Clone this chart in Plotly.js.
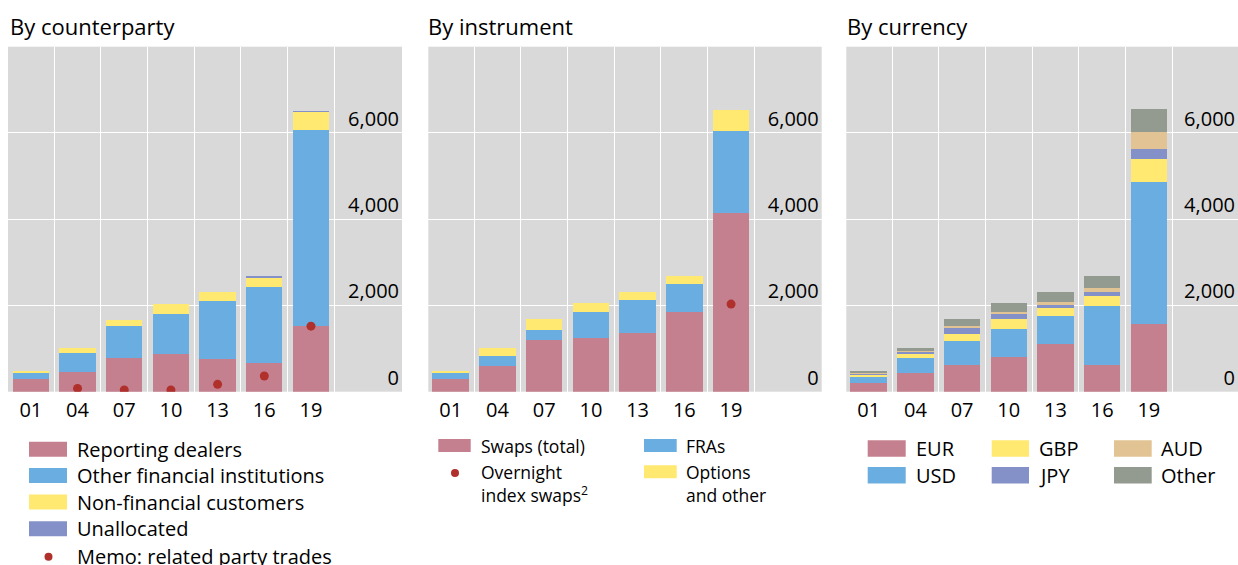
<!DOCTYPE html>
<html>
<head>
<meta charset="utf-8">
<script src="https://cdn.plot.ly/plotly-3.0.1.min.js"></script>
<style>
html,body{margin:0;padding:0;background:#fff;}
#chart{width:1238px;height:565px;}
</style>
</head>
<body>
<div id="chart"></div>
<script>
// ---- Data (daily average turnover, USD bn) ----
const years = ['01', '04', '07', '10', '13', '16', '19'];

// By counterparty
const cpDealers  = [285, 463, 772, 864, 748, 656, 1528];
const cpOtherFin = [147, 440, 748, 934, 1351, 1775, 4537];
const cpNonFin   = [48, 108, 154, 247, 208, 208, 416];
const cpUnalloc  = [0, 0, 0, 0, 0, 38, 31];
const cpRelated  = [null, 77, 40, 40, 170, 363, 1520];

// By instrument
const inSwaps   = [301, 595, 1189, 1243, 1367, 1838, 4139];
const inFRAs    = [131, 239, 247, 603, 749, 656, 1907];
const inOptions = [47, 185, 255, 216, 201, 186, 479];
const inOIS     = [null, null, null, null, null, null, 2031];

// By currency
const cuEUR   = [208, 432, 620, 806, 1109, 620, 1574];
const cuUSD   = [139, 347, 551, 659, 643, 1364, 3286];
const cuGBP   = [40, 93, 170, 225, 186, 241, 543];
const cuJPY   = [25, 46, 140, 116, 70, 77, 217];
const cuAUD   = [12, 16, 31, 47, 77, 109, 403];
const cuOther = [66, 85, 178, 209, 233, 279, 527];

const yTicks = [0, 2000, 4000, 6000];

// ---- Styles ----
const C = {
  red: '#C4808F', blue: '#6AADE0', yellow: '#FFE970', purple: '#8490C8',
  tan: '#E2C393', gray: '#939A90', dot: '#B0302C', bg: '#D9D9D9'
};
const FONT = 'Open Sans, Noto Sans, sans-serif';
const W = 1238, H = 565;
const px = x => x / W;
const py = y => 1 - y / H;

function bar(name, y, color, ax) {
  return { type: 'bar', name: name, x: years, y: y, xaxis: 'x' + ax, yaxis: 'y' + ax,
    marker: { color: color, line: { width: 0 } }, showlegend: false, hoverinfo: 'x+y+name' };
}
function dots(name, y, ax) {
  return { type: 'scatter', mode: 'markers', name: name, x: years, y: y, xaxis: 'x' + ax, yaxis: 'y' + ax,
    marker: { color: C.dot, size: 9 }, showlegend: false, cliponaxis: true };
}

const data = [
  bar('Reporting dealers', cpDealers, C.red, ''),
  bar('Other financial institutions', cpOtherFin, C.blue, ''),
  bar('Non-financial customers', cpNonFin, C.yellow, ''),
  bar('Unallocated', cpUnalloc, C.purple, ''),
  dots('Memo: related party trades', cpRelated, ''),

  bar('Swaps (total)', inSwaps, C.red, '2'),
  bar('FRAs', inFRAs, C.blue, '2'),
  bar('Options and other', inOptions, C.yellow, '2'),
  dots('Overnight index swaps', inOIS, '2'),

  bar('EUR', cuEUR, C.red, '3'),
  bar('USD', cuUSD, C.blue, '3'),
  bar('GBP', cuGBP, C.yellow, '3'),
  bar('JPY', cuJPY, C.purple, '3'),
  bar('AUD', cuAUD, C.tan, '3'),
  bar('Other', cuOther, C.gray, '3')
];

const yDom = [py(391.7), py(46.7)];
function xAxis(dom, range) {
  return { domain: dom, type: 'category', range: range, tickson: 'boundaries',
    showgrid: true, gridcolor: '#FFFFFF', gridwidth: 1, ticks: '', showline: false,
    zeroline: false, tickfont: { family: FONT, size: 20, color: '#000' }, ticklabelstandoff: 4,
    fixedrange: true };
}
function yAxis(anchor) {
  return { domain: yDom, anchor: anchor, side: 'right', range: [0, 8000],
    tickvals: yTicks, tickformat: ',d', ticklabelposition: 'inside top',
    showgrid: true, gridcolor: '#FFFFFF', gridwidth: 1, zeroline: false, ticks: '',
    showline: false, tickfont: { family: FONT, size: 20, color: '#000' }, fixedrange: true };
}

const layout = {
  width: W, height: H,
  margin: { l: 0, r: 0, t: 0, b: 0 },
  paper_bgcolor: '#FFFFFF', plot_bgcolor: C.bg,
  barmode: 'stack', bargap: 0.22,
  showlegend: false,
  font: { family: FONT, color: '#000' },
  xaxis:  xAxis([px(8), px(402)], [-0.49, 7.95]),
  xaxis2: xAxis([px(428.3), px(821.7)], [-0.48, 7.94]),
  xaxis3: xAxis([px(846.3), 1], [-0.48, 7.91]),
  yaxis:  yAxis('x'),
  yaxis2: yAxis('x2'),
  yaxis3: yAxis('x3'),
  shapes: [],
  annotations: []
};

function title(text, x) {
  layout.annotations.push({ text: text, xref: 'paper', yref: 'paper', x: px(x), y: py(26),
    xanchor: 'left', yanchor: 'middle', showarrow: false,
    font: { family: FONT, size: 22, color: '#000' } });
}
function label(text, x, y, size) {
  layout.annotations.push({ text: text, xref: 'paper', yref: 'paper', x: px(x), y: py(y),
    xanchor: 'left', yanchor: 'middle', showarrow: false,
    font: { family: FONT, size: size, color: '#000' } });
}
function swatch(color, x0, x1, yc, h) {
  layout.shapes.push({ type: 'rect', xref: 'paper', yref: 'paper', x0: px(x0), x1: px(x1),
    y0: py(yc + h / 2), y1: py(yc - h / 2), fillcolor: color, line: { width: 0 } });
}
function dot(x, y, r) {
  layout.shapes.push({ type: 'circle', xref: 'paper', yref: 'paper', x0: px(x - r), x1: px(x + r),
    y0: py(y + r), y1: py(y - r), fillcolor: C.dot, line: { width: 0 } });
}

title('By counterparty', 7.5);
title('By instrument', 425.5);
title('By currency', 844.5);

// Legend 1
const l1 = [['Reporting dealers', C.red, 449.2], ['Other financial institutions', C.blue, 475.5],
            ['Non-financial customers', C.yellow, 502], ['Unallocated', C.purple, 528.7]];
l1.forEach(r => { swatch(r[1], 29, 67, r[2], 15); label(r[0], 75, r[2], 20); });
dot(48.5, 556.7, 4);
label('Memo: related party trades', 75, 556.7, 20);

// Legend 2
swatch(C.red, 438.3, 470.7, 445.5, 13); label('Swaps (total)', 478.5, 445.7, 17.5);
dot(455, 473, 4);
label('Overnight', 478.5, 472, 17.5);
label('index swaps<sup>2</sup>', 478.5, 494, 17.5);
swatch(C.blue, 644, 676.7, 445.5, 13); label('FRAs', 684, 445.7, 17.5);
swatch(C.yellow, 644, 676.7, 471.7, 13);
label('Options', 684, 472, 17.5);
label('and other', 684, 495, 17.5);

// Legend 3
const l3 = [['EUR', C.red, 867.7, 905.7, 916, 448.5], ['USD', C.blue, 867.7, 905.7, 916, 475.2],
            ['GBP', C.yellow, 991.7, 1029, 1039, 448.5], ['JPY', C.purple, 991.7, 1029, 1039, 475.2],
            ['AUD', C.tan, 1114, 1151.7, 1161, 448.5], ['Other', C.gray, 1114, 1151.7, 1161, 475.2]];
l3.forEach(r => { swatch(r[1], r[2], r[3], r[5], 16.5); label(r[0], r[4] - 2, r[5], 20); });

Plotly.newPlot('chart', data, layout, { displayModeBar: false, staticPlot: true });
</script>
</body>
</html>
